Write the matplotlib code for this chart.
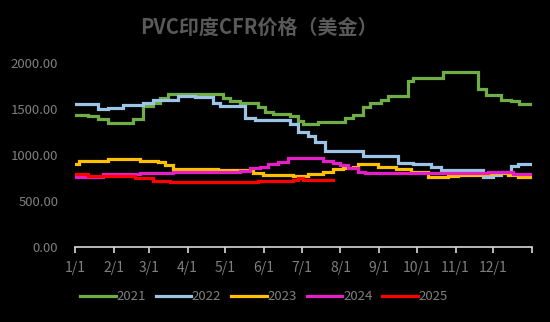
import matplotlib.pyplot as plt
import pandas as pd

plt.rcParams['font.family'] = ['Noto Sans CJK SC', 'DejaVu Sans']

# change points (month-day) and prices, USD/t
d2021 = ["01-01", "01-11", "01-19", "01-27", "02-16", "02-24", "03-04", "03-10", "03-16",
         "04-29", "05-05", "05-13", "05-27", "06-02", "06-08", "06-22", "06-28", "07-02",
         "07-14", "08-05", "08-11", "08-19", "08-25", "09-02", "09-08", "09-24", "09-28",
         "10-22", "11-19", "11-25", "12-07", "12-15", "12-22", "12-31"]
v2021 = [1440, 1425, 1390, 1350, 1390, 1535, 1565, 1620, 1665,
         1620, 1590, 1565, 1525, 1470, 1445, 1420, 1375, 1340,
         1355, 1400, 1435, 1520, 1565, 1600, 1645, 1805, 1845,
         1900, 1715, 1655, 1605, 1590, 1555, 1555]

d2022 = ["01-01", "01-19", "01-27", "02-08", "02-24", "03-04", "03-24", "04-07", "04-21",
         "04-27", "05-17", "05-25", "06-22", "06-28", "07-06", "07-12", "07-20", "08-19",
         "09-16", "09-28", "10-12", "10-20", "11-23", "12-01", "12-07", "12-15", "12-21", "12-31"]
v2022 = [1555, 1500, 1515, 1545, 1570, 1600, 1645, 1635, 1565,
         1535, 1400, 1380, 1335, 1255, 1210, 1145, 1045, 990,
         910, 900, 870, 835, 757, 780, 820, 880, 900, 900]

d2023 = ["01-01", "01-04", "01-27", "02-22", "03-08", "03-14", "03-20", "04-25", "05-23",
         "05-31", "06-24", "07-06", "07-18", "07-26", "08-03", "08-11", "08-15", "08-31",
         "09-14", "09-26", "10-10", "10-26", "11-03", "11-21", "11-29", "12-13", "12-21", "12-31"]
v2023 = [900, 940, 955, 940, 920, 890, 845, 835, 800,
         780, 770, 790, 820, 845, 860, 870, 898, 870,
         845, 818, 765, 775, 782, 793, 807, 782, 765, 765]

d2024 = ["01-01", "01-11", "01-23", "02-22", "03-20", "05-13", "05-21", "05-29", "06-04",
         "06-12", "06-20", "07-18", "07-26", "08-01", "08-07", "08-15", "08-21", "11-27",
         "12-17", "12-31"]
v2024 = [765, 755, 790, 805, 815, 830, 855, 870, 898,
         925, 970, 935, 915, 890, 855, 818, 805, 818,
         790, 790]

d2025 = ["01-01", "01-11", "02-18", "03-04", "03-18", "05-27", "06-24", "06-28", "07-02", "07-26"]
v2025 = [790, 775, 745, 720, 705, 715, 730, 750, 725, 725]

series = [
    ("2021", d2021, v2021, "#70AD47"),
    ("2022", d2022, v2022, "#9DC3E6"),
    ("2023", d2023, v2023, "#FFC000"),
    ("2024", d2024, v2024, "#E61EC8"),
    ("2025", d2025, v2025, "#FF0000"),
]

fig = plt.figure(figsize=(5.5, 3.22), dpi=100, facecolor="black")
ax = fig.add_axes([75 / 550, 1 - 246.7 / 322, 457 / 550, 183.4 / 322])
ax.set_facecolor("black")

for name, days, vals, color in series:
    x = pd.to_datetime(["2021-" + d for d in days])
    ax.plot(x, vals, color=color, lw=2.3, drawstyle="steps-post", label=name,
            solid_joinstyle="miter")

ax.set_xlim(pd.Timestamp("2021-01-01"), pd.Timestamp("2022-01-01"))
ax.set_ylim(0, 2000)
ax.set_yticks([0, 500, 1000, 1500, 2000])
ax.set_yticklabels([f"{v:.2f}" for v in [0, 500, 1000, 1500, 2000]])

ticks = list(pd.date_range("2021-01-01", "2022-01-01", freq="MS"))
ax.set_xticks(ticks)
ax.set_xticklabels([f"{t.month}/1" for t in ticks[:-1]] + [""])

for s in ["top", "right", "left"]:
    ax.spines[s].set_visible(False)
ax.spines["bottom"].set_color("#d9d9d9")
ax.spines["bottom"].set_linewidth(1.2)
ax.tick_params(axis="x", colors="#d9d9d9", length=4, width=1.2, direction="out",
               labelcolor="#7f7f7f", labelsize=10, pad=6)
ax.tick_params(axis="y", length=0, labelcolor="#7f7f7f", labelsize=9.5, pad=12)

fig.text(259 / 550, 1 - 27 / 322, "PVC印度CFR价格（美金）", ha="center", va="center",
         color="#595959", fontsize=14.4, fontweight="bold")

fig.legend(loc="center", bbox_to_anchor=(264 / 550, 1 - 297 / 322), ncol=5,
           frameon=False, fontsize=9.5, labelcolor="#7f7f7f", handlelength=2.7,
           handletextpad=0.05, columnspacing=0.75)

fig.savefig("out.png", dpi=100, facecolor="black")
